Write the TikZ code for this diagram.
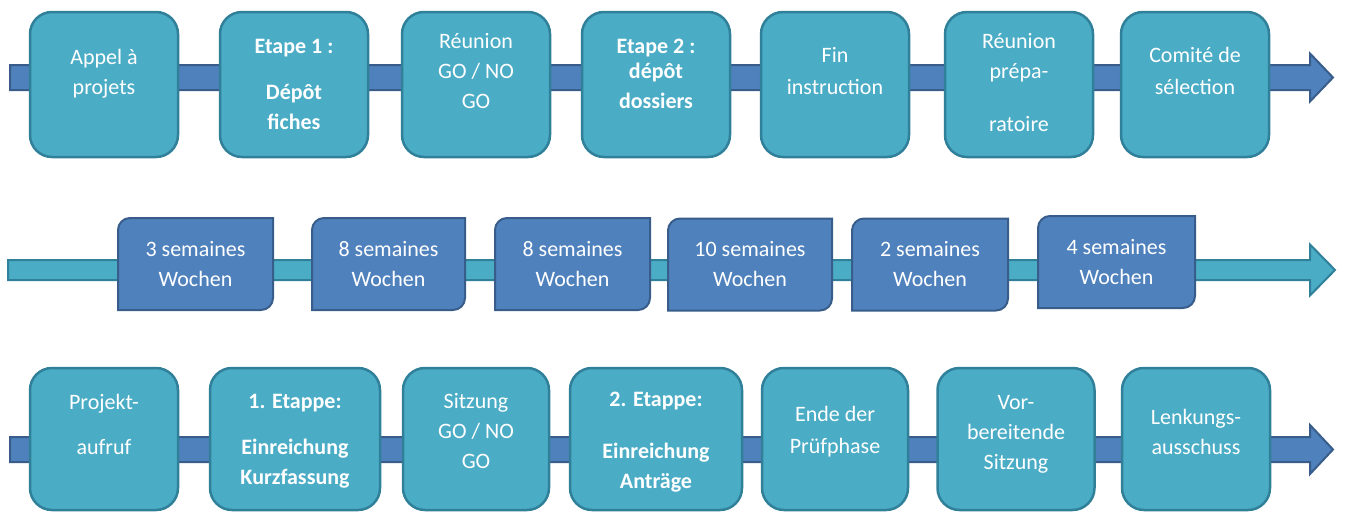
\documentclass[tikz,border=0pt]{standalone}
\usepackage{fontspec}
\setmainfont{Carlito}
\usetikzlibrary{calc}

\definecolor{aqua}{HTML}{4BACC6}
\definecolor{aquadark}{HTML}{31809A}
\definecolor{steel}{HTML}{4F81BD}
\definecolor{steeldark}{HTML}{385D8A}

\tikzset{
  stage/.style={draw=aquadark, fill=aqua, line width=2.5pt, rounded corners=22pt, minimum width=148pt, inner sep=0pt, outer sep=0pt},
  stagetext/.style={text=white, align=center, anchor=north, inner sep=0pt, font=\fontsize{22}{30}\selectfont},
  durslot/.style={minimum height=92pt, inner sep=0pt, outer sep=0pt},
  durbox/.style={draw=steeldark, fill=steel, line width=2pt},
  durtext/.style={text=white, align=center, inner sep=0pt, font=\fontsize{22}{30}\selectfont},
  shaftA/.style={draw=steeldark, fill=steel, line width=2pt},
  shaftB/.style={draw=aquadark, fill=aqua, line width=2pt},
}

\begin{document}
\begin{tikzpicture}[x=1pt,y=-1pt]
	\useasboundingbox (0,0) rectangle (1346,514);

	% the three timelines
	\coordinate (fr0) at (10,77.5);\coordinate (fr1) at (1333,77.5);
	\coordinate (du0) at (8,270);\coordinate (du1) at (1335,270);
	\coordinate (de0) at (10,449.5);\coordinate (de1) at (1333,449.5);
	\draw[shaftA] ($(fr0)+(0,-12.5)$) -- ($(fr1)+(-23,-12.5)$) -- ($(fr1)+(-23,-24)$) -- (fr1) -- ($(fr1)+(-23,24)$) -- ($(fr1)+(-23,12.5)$) -- ($(fr0)+(0,12.5)$) -- cycle;% french line
	\draw[shaftB] ($(du0)+(0,-10)$) -- ($(du1)+(-25,-10)$) -- ($(du1)+(-25,-25.5)$) -- (du1) -- ($(du1)+(-25,25.5)$) -- ($(du1)+(-25,10)$) -- ($(du0)+(0,10)$) -- cycle;% durations
	\draw[shaftA] ($(de0)+(0,-12.5)$) -- ($(de1)+(-23,-12.5)$) -- ($(de1)+(-23,-24.5)$) -- (de1) -- ($(de1)+(-23,24.5)$) -- ($(de1)+(-23,12.5)$) -- ($(de0)+(0,12.5)$) -- cycle;% german line

	% french stages
	\node[stage, minimum height=145pt] (fr1b) at (104,84.5) {};
	\node[stage, minimum height=145pt] (fr2b) at (294,84.5) {};
	\node[stage, minimum height=145pt] (fr3b) at (476,84.5) {};
	\node[stage, minimum height=145pt] (fr4b) at (656,84.5) {};
	\node[stage, minimum height=145pt] (fr5b) at (835,84.5) {};
	\node[stage, minimum height=145pt] (fr6b) at (1019,84.5) {};
	\node[stage, minimum height=145pt] (fr7b) at (1195,84.5) {};
	\node[stagetext] (fr1t) at (104,43.5) {\strut Appel à\\projets};
	\node[stagetext, font=\fontsize{22}{30}\selectfont\bfseries] (fr2t) at (294,32.5) {\strut Etape 1 :\\[16pt]Dépôt\\fiches};
	\node[stagetext] (fr3t) at (476,27.5) {\strut Réunion\\GO / NO\\GO};
	\node[stagetext, font=\fontsize{22}{30}\selectfont\bfseries] (fr4t) at (656,32.5) {\strut Etape 2 :\\[-5pt]dépôt\\dossiers};
	\node[stagetext] (fr5t) at (835,41) {\strut Fin\\[2pt]instruction};
	\node[stagetext] (fr6t) at (1019,27.5) {\strut Réunion\\prépa-\\[23pt]ratoire};
	\node[stagetext] (fr7t) at (1195,41) {\strut Comité de\\[2pt]sélection};

	% durations
	\node[durslot, minimum width=155pt] (d1) at (195.5,264) {};
	\node[durslot, minimum width=153pt] (d2) at (388.5,264) {};
	\node[durslot, minimum width=155pt] (d3) at (572.5,264) {};
	\node[durslot, minimum width=164pt] (d4) at (750,264.5) {};
	\node[durslot, minimum width=156pt] (d5) at (930,264.5) {};
	\node[durslot, minimum width=157pt] (d6) at (1116.5,262) {};
	\foreach \i in {1,...,6}
		\draw[durbox] (d\i.north east) -- ([yshift=12pt]d\i.south east) .. controls ([yshift=5.4pt]d\i.south east) and ([xshift=-5.4pt]d\i.south east) .. ([xshift=-12pt]d\i.south east) -- (d\i.south west) -- ([yshift=-12pt]d\i.north west) .. controls ([yshift=-5.4pt]d\i.north west) and ([xshift=5.4pt]d\i.north west) .. ([xshift=12pt]d\i.north west) -- cycle;
	\node[durtext] (d1t) at (d1) {3 semaines\\Wochen};
	\node[durtext] (d2t) at (d2) {8 semaines\\Wochen};
	\node[durtext] (d3t) at (d3) {8 semaines\\Wochen};
	\node[durtext] (d4t) at (d4) {10 semaines\\Wochen};
	\node[durtext] (d5t) at (d5) {2 semaines\\Wochen};
	\node[durtext] (d6t) at (d6) {4 semaines\\Wochen};

	% german stages
	\node[stage, minimum height=142pt] (de1b) at (104,439) {};
	\node[stage, minimum height=142pt, minimum width=170pt] (de2b) at (295,439) {};
	\node[stage, minimum height=142pt, minimum width=146pt] (de3b) at (476,439) {};
	\node[stage, minimum height=142pt, minimum width=172pt] (de4b) at (656,439) {};
	\node[stage, minimum height=142pt, minimum width=146pt] (de5b) at (835,439) {};
	\node[stage, minimum height=142pt, minimum width=157pt] (de6b) at (1016,439) {};
	\node[stage, minimum height=142pt] (de7b) at (1196,439) {};
	\node[stagetext] (de1t) at (104,388.5) {\strut Projekt-\\[15pt]aufruf};
	\node[stagetext, font=\fontsize{22}{30}\selectfont\bfseries] (de2t) at (295,387.5) {\strut 1. Etappe:\\[16pt]Einreichung\\Kurzfassung};
	\node[stagetext] (de3t) at (476,387.5) {\strut Sitzung\\GO / NO\\GO};
	\node[stagetext, font=\fontsize{22}{30}\selectfont\bfseries] (de4t) at (656,385.5) {\strut 2. Etappe:\\[22pt]Einreichung\\Anträge};
	\node[stagetext] (de5t) at (835,400.5) {\strut Ende der\\[2pt]Prüfphase};
	\node[stagetext] (de6t) at (1016,388.5) {\strut Vor-\\bereitende\\Sitzung};
	\node[stagetext] (de7t) at (1196,403.5) {\strut Lenkungs-\\ausschuss};
\end{tikzpicture}
\end{document}
